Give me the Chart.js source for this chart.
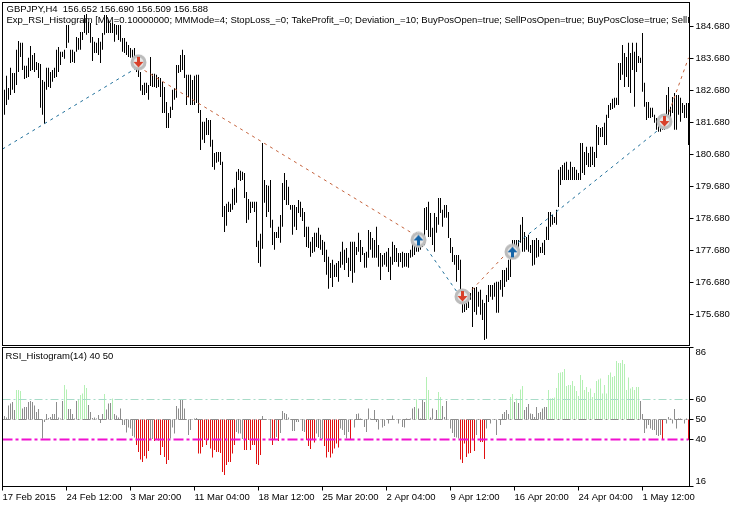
<!DOCTYPE html>
<html>
<head>
<meta charset="utf-8">
<style>
  html, body { margin: 0; padding: 0; background: #fff; }
  canvas { position: absolute; left: 0; }
  #priceChart { top: 0; }
  #rsiChart { top: 346px; }
</style>
<script src="https://cdn.jsdelivr.net/npm/chart.js@4"></script>
</head>
<body>
<canvas id="priceChart" width="741" height="346"></canvas>
<canvas id="rsiChart" width="741" height="160"></canvas>
<script>
// H4 bars
const highs = [
  182.40,182.71,183.15,182.77,183.40,183.24,183.24,183.96,184.24,184.18,
  184.18,183.46,183.46,183.71,184.08,183.80,183.86,183.58,183.55,183.52,
  183.02,182.96,183.40,183.40,183.27,183.33,183.40,183.96,184.05,183.90,
  183.90,183.96,184.74,184.74,183.96,183.96,183.90,184.36,184.33,184.52,
  184.52,185.05,185.08,184.83,184.80,184.36,184.21,184.18,184.33,184.21,
  184.49,185.05,185.05,184.89,184.80,184.80,184.77,184.74,184.74,184.74,
  184.33,184.33,184.21,184.11,184.02,183.96,184.02,183.71,183.49,183.27,
  182.86,182.93,182.93,182.86,183.74,183.21,183.21,183.18,183.11,183.08,
  182.96,182.80,182.33,181.99,182.18,182.71,182.77,183.49,183.49,183.80,
  183.96,183.80,183.18,183.18,183.18,183.02,183.15,183.18,183.18,182.08,
  181.71,181.71,181.83,181.77,181.77,181.15,180.74,180.77,180.77,180.77,
  180.46,179.08,179.15,179.21,179.15,179.61,179.65,180.15,180.24,180.18,
  180.15,180.11,179.52,179.30,179.21,179.21,179.21,179.21,177.99,178.21,
  181.05,179.89,179.74,179.71,179.89,178.65,178.27,178.27,178.43,178.80,
  179.80,180.11,179.89,179.68,179.11,179.11,179.11,179.05,179.27,179.21,
  179.02,178.89,178.43,178.43,177.96,178.11,178.24,178.24,178.40,178.18,
  178.02,177.96,177.71,177.49,177.30,177.40,177.24,177.30,177.36,177.65,
  177.96,177.71,177.77,177.46,177.96,177.96,177.96,177.80,178.24,178.02,
  177.80,177.61,177.65,178.33,178.27,178.08,178.02,178.43,177.86,177.61,
  177.55,177.61,177.65,177.77,177.49,177.96,177.86,177.77,177.61,177.61,
  177.65,177.61,177.61,177.61,177.71,177.93,177.86,178.24,178.11,177.96,
  178.11,179.02,179.05,179.21,178.86,178.40,178.86,178.74,179.33,179.33,
  178.96,179.11,179.11,178.89,178.08,177.80,177.55,177.55,177.55,177.40,
  176.46,176.36,176.30,176.36,176.36,176.55,176.52,176.55,176.40,176.46,
  176.15,176.05,176.30,176.61,176.61,176.61,176.68,176.71,176.71,176.77,
  177.08,177.08,177.15,177.40,177.86,178.02,178.02,178.02,178.02,178.49,
  178.74,178.27,178.11,178.18,177.86,178.02,178.02,178.08,178.02,177.80,
  177.93,178.02,178.43,178.89,178.89,178.80,178.74,178.96,180.21,180.30,
  180.36,180.43,180.46,180.21,180.46,180.30,180.30,180.21,180.11,181.05,
  181.05,180.77,180.93,180.74,180.93,180.93,180.77,181.61,181.55,181.52,
  181.55,181.68,181.93,182.24,182.30,182.43,182.46,182.46,183.55,183.55,
  184.11,183.86,183.74,184.18,183.86,184.18,183.90,184.18,183.77,183.71,
  184.49,182.93,182.33,182.33,182.15,182.15,181.93,181.83,181.83,181.83,
  181.93,181.71,182.55,182.80,182.18,182.49,182.61,182.55,182.55,182.46,
  182.30,182.24,182.30,182.30
];
const lows = [
  181.93,181.93,182.24,182.40,182.55,182.71,182.61,182.86,183.27,183.74,
  183.33,183.05,183.08,183.11,183.30,183.33,183.27,183.33,183.08,182.15,
  181.93,181.65,182.71,182.80,182.77,182.96,183.08,183.11,183.27,183.49,
  183.74,183.68,184.02,184.18,183.55,183.58,183.55,183.90,183.96,183.96,
  184.27,184.49,184.43,184.49,184.18,183.61,183.86,183.86,183.80,183.55,
  183.96,184.43,184.49,184.49,184.49,184.49,184.21,184.43,184.27,184.21,
  183.90,183.86,183.80,183.74,183.71,183.65,183.52,183.27,183.11,182.68,
  182.55,182.55,182.61,182.40,182.83,182.80,182.80,182.77,182.80,182.49,
  181.99,181.99,181.52,181.52,181.83,182.08,182.40,182.46,183.24,183.27,
  183.33,183.08,182.24,182.49,182.24,182.24,182.24,182.30,181.99,180.83,
  181.15,181.05,181.30,181.30,180.93,180.30,180.21,180.43,180.46,180.36,
  178.74,178.27,178.46,178.89,178.89,178.96,179.11,179.18,179.89,179.86,
  179.89,179.33,178.55,178.65,178.86,179.02,178.89,177.80,177.30,177.18,
  177.74,179.18,178.74,178.89,178.40,177.86,177.71,178.08,178.08,177.93,
  178.43,179.27,179.11,179.11,178.96,178.18,178.43,178.33,178.86,178.74,
  178.61,178.11,177.80,177.77,177.49,177.61,177.65,177.80,177.77,177.71,
  177.55,177.33,176.93,176.49,176.83,176.55,176.86,176.86,176.71,177.15,
  177.24,177.08,177.30,176.86,177.05,176.68,176.99,177.55,177.65,177.33,
  177.55,177.15,177.15,177.46,177.71,177.46,177.46,177.46,177.18,176.77,
  177.18,177.24,177.18,177.02,176.77,177.24,177.33,177.33,177.18,177.33,
  177.15,177.18,177.18,177.15,177.46,177.49,177.55,177.65,177.65,177.71,
  177.80,177.86,178.33,178.11,178.11,177.86,177.65,178.24,178.49,178.86,
  178.43,178.71,178.71,178.08,177.61,177.33,177.24,176.71,177.08,176.21,
  175.74,175.77,175.83,175.89,176.15,175.30,175.77,175.68,175.93,175.68,
  175.52,174.89,174.93,176.08,176.24,176.15,176.24,175.74,175.74,176.46,
  176.24,176.55,176.71,176.77,176.86,177.65,177.77,177.77,177.71,177.93,
  177.65,177.65,177.71,177.65,177.61,177.21,177.24,177.46,177.49,177.61,
  177.61,177.55,178.02,178.02,178.43,178.49,178.55,178.49,179.05,179.74,
  179.89,179.89,179.89,179.89,179.89,179.89,179.89,179.89,179.89,179.89,
  180.11,180.05,180.36,180.30,180.30,180.36,180.30,180.58,180.99,181.24,
  181.24,180.99,180.99,181.83,182.08,182.11,182.15,182.24,182.24,183.02,
  183.18,182.80,183.11,182.80,182.61,183.33,182.18,183.27,183.55,183.55,
  182.65,182.18,181.77,181.83,181.83,181.86,181.68,181.46,181.40,181.40,
  181.46,181.46,181.77,181.86,181.61,181.99,181.46,181.46,181.93,181.71,
  181.99,181.83,181.83,180.99
];
const rsi = [
  51,51.7,51,57,58,58.7,54.7,64.7,64.7,64.3,
  55.5,56.3,56.3,58.8,59.3,58.7,57,53.8,55.2,49.7,
  40.5,48.8,52.7,50.7,51.3,52.7,52.7,58.8,51,50.5,
  59.3,67.2,65,55.2,55.2,52.7,50.5,59.3,60.2,62.2,
  63,67.2,65.8,57.2,53.8,50.8,51,50.5,52.2,48.3,
  52.7,62.7,55,58,58.3,60.5,52.7,52,51,55.5,
  47.2,47.2,43.5,46,45.5,41.7,41,37.2,33.8,30,
  28.8,31.7,30.5,34.2,40.3,40.3,39.2,39.8,39.5,32.2,
  36.3,31.3,27.7,29.7,40.5,46,43,56.7,55.5,59.7,
  59.7,55.5,49.7,42.2,44.7,49.7,50.5,50.8,33,33,
  36.3,39.7,37.2,39.7,35.5,31,34.7,33.8,33.8,33.3,
  23.8,22.2,27.2,28.8,28.8,33,37.2,43.8,43,43,
  40.3,34.7,34.7,39.7,34.7,37.2,37.2,27.7,27.2,32.2,
  51.7,50,49.7,49.7,40.5,37.2,39.7,41.3,39.3,43.3,
  54.2,53.3,52.7,51,49.7,44.3,44.3,48.8,48.8,50.3,
  44.3,43.8,39.7,36.7,35.2,39.9,38.5,43,41.3,40.5,
  40.2,36.7,31,33.8,31,33,35.5,38,36,45.5,
  44.7,42.2,40.5,43.8,39.7,49.7,46,52.7,53,50.5,
  49.8,46.3,43.8,55.5,50.5,49.7,54.7,48.8,45,49.7,
  46,46.7,50.2,48,49.7,52,49.8,49.7,48,50.2,
  46.3,46,50.5,50.2,50.5,55.5,56.3,60.1,55.5,50.5,
  59.9,58.8,71.3,64.7,51,55.5,49.7,54.7,63.7,61.3,
  56.7,51.3,59.3,49.7,45.5,43.3,41.3,41,40.5,30,
  28.3,38,31.3,33,33.3,39.7,34.3,42.2,49.7,38.8,
  38.8,30.3,45.5,49.7,48,50.2,49.7,42.2,50.2,47.2,
  52.7,53.8,54.7,52.7,61.3,62.7,58.8,60.5,58.3,65,
  66.7,54.7,56.3,57.7,53,52.7,51.3,56.3,53.3,53.8,
  55.5,56.3,56.3,64.7,60.5,60.8,61,65.8,73.3,73.5,
  73.8,75.2,66.8,67.2,67.2,69.3,66.7,64.3,61.7,72.2,
  69.7,64.7,66.3,63.8,65.5,61.3,63.3,69.3,70,70.5,
  63,67.2,63,72.2,73.5,71.3,71.8,79.3,78.3,78.3,
  79.7,77.7,64.7,71,65.5,66.3,64.7,66.3,66.3,59.3,
  52.7,43.3,45.5,47.2,45.5,44.7,44.7,42.2,41.8,42.2,
  39.9,50,48,51.3,50.5,48,55.2,45.5,50.5,50.5,
  50,48,50.5,39.8
];

// trade history lines: bar index and price at each deal
const dealBars = [0, 68, 208, 230, 255, 331, 343];
const dealPrices = [180.86, 183.43, 178.11, 176.15, 177.80, 181.61, 183.71];

// ringed arrows
const sellBars = [68, 230, 331];
const sellPrices = [183.57, 176.25, 181.72];
const buyBars = [208, 255];
const buyPrices = [178.02, 177.65];

const priceTicks = [184.68, 183.68, 182.68, 181.68, 180.68, 179.68, 178.68, 177.68, 176.68, 175.68];
const rsiTicks = [86, 60, 50, 40, 16];
const rsiLevels = [60, 50, 40];
const timeTicks = ["17 Feb 2015", "24 Feb 12:00", "3 Mar 20:00", "11 Mar 04:00", "18 Mar 12:00", "25 Mar 20:00", "2 Apr 04:00", "9 Apr 12:00", "16 Apr 20:00", "24 Apr 04:00", "1 May 12:00"];
const barsPerTick = 32;

const headerLine1 = "GBPJPY,H4  156.652 156.690 156.509 156.588";
const headerLine2 = "Exp_RSI_Histogram [MM=0.10000000; MMMode=4; StopLoss_=0; TakeProfit_=0; Deviation_=10; BuyPosOpen=true; SellPosOpen=true; BuyPosClose=true; SellPosClose=true]";
const rsiHeader = "RSI_Histogram(14) 40 50";

const BLUE = "#1f6f9a";
const BROWN = "#c4623c";
const FONT = "9.5px 'Liberation Sans'";

const barIndex = highs.map((_, i) => i);

// ring plus arrow, used as the point image of the deal markers
function makeIcon(color, up) {
  const c = document.createElement("canvas");
  c.width = c.height = 17;
  const g = c.getContext("2d");
  g.beginPath();
  g.arc(8.5, 8.5, 6.5, 0, Math.PI * 2);
  g.fillStyle = "#e8e8e8";
  g.fill();
  g.lineWidth = 3;
  g.strokeStyle = "#bcbcbc";
  g.stroke();
  if (up) {
    g.translate(0, 17);
    g.scale(1, -1);
  }
  g.fillStyle = color;
  g.beginPath();
  g.moveTo(7, 3);
  g.lineTo(10, 3);
  g.lineTo(10, 8);
  g.lineTo(13.5, 8);
  g.lineTo(8.5, 13.5);
  g.lineTo(3.5, 8);
  g.lineTo(7, 8);
  g.closePath();
  g.fill();
  return c;
}

// black pane border and the text lines inside the pane
function paneDecor(lines) {
  return {
    id: "paneDecor",
    afterDraw(chart) {
      const { ctx, chartArea: a } = chart;
      ctx.save();
      ctx.strokeStyle = "#000";
      ctx.lineWidth = 1;
      ctx.strokeRect(a.left + 1, a.top, a.right - a.left - 1, a.bottom - a.top);
      ctx.beginPath();
      ctx.rect(a.left, a.top, a.right - a.left, a.bottom - a.top);
      ctx.clip();
      ctx.fillStyle = "#000";
      ctx.font = FONT;
      ctx.textBaseline = "middle";
      lines.forEach(l => ctx.fillText(l.text, l.x, l.y));
      ctx.restore();
    }
  };
}

// the rsi axis keeps its end labels inside the pane
const rsiLabels = {
  id: "rsiLabels",
  afterDraw(chart) {
    const { ctx, chartArea: a, scales } = chart;
    ctx.save();
    ctx.fillStyle = "#000";
    ctx.font = FONT;
    ctx.textBaseline = "middle";
    rsiTicks.forEach(v => {
      const y = Math.min(Math.max(scales.y.getPixelForValue(v), a.top + 5), a.bottom - 5.5);
      ctx.fillText(String(v), a.right + 6, y);
    });
    ctx.restore();
  }
};

function fixAxis(width, height) {
  return scale => {
    if (width) scale.width = width;
    if (height) scale.height = height;
    scale.paddingTop = scale.paddingBottom = scale.paddingLeft = scale.paddingRight = 0;
  };
}

function tradeSegment(from, color) {
  return {
    type: "line",
    order: 1,
    data: [
      { x: dealBars[from], y: dealPrices[from] },
      { x: dealBars[from + 1], y: dealPrices[from + 1] }
    ],
    borderColor: color,
    borderWidth: 1,
    borderDash: [3, 4],
    pointRadius: 0,
    fill: false
  };
}

function markers(bars, prices, icon) {
  return {
    type: "line",
    order: 0,
    showLine: false,
    data: bars.map((b, i) => ({ x: b, y: prices[i] })),
    pointStyle: icon,
    pointRadius: 8
  };
}

new Chart(document.getElementById("priceChart"), {
  type: "bar",
  data: {
    labels: barIndex,
    datasets: [
      markers(sellBars, sellPrices, makeIcon("#d8402a", false)),
      markers(buyBars, buyPrices, makeIcon("#1464a8", true)),
      tradeSegment(0, BLUE),
      tradeSegment(1, BROWN),
      tradeSegment(2, BLUE),
      tradeSegment(3, BROWN),
      tradeSegment(4, BLUE),
      tradeSegment(5, BROWN),
      {
        order: 2,
        data: highs.map((h, i) => [lows[i], h]),
        backgroundColor: "#000",
        barThickness: 1,
        inflateAmount: 0,
        borderWidth: 0
      }
    ]
  },
  options: {
    responsive: false,
    animation: false,
    devicePixelRatio: 1,
    layout: { autoPadding: false, padding: { left: 1.5, top: 2.5, right: 0, bottom: 0.5 } },
    plugins: { legend: { display: false }, tooltip: { enabled: false } },
    scales: {
      x: { display: false, offset: true },
      y: {
        position: "right",
        min: 174.72,
        max: 185.44,
        bounds: "data",
        afterFit: fixAxis(51.5),
        afterBuildTicks: s => { s.ticks = priceTicks.map(v => ({ value: v })); },
        border: { display: false },
        grid: { drawOnChartArea: false, tickLength: 4, color: "#000" },
        ticks: {
          autoSkip: false,
          padding: 2,
          color: "#000",
          font: { family: "'Liberation Sans'", size: 9.5 },
          callback: v => v.toFixed(3)
        }
      }
    }
  },
  plugins: [paneDecor([
    { text: headerLine1, x: 6.5, y: 9.5 },
    { text: headerLine2, x: 6.5, y: 20.5 }
  ])]
});

const levelColors = ["#a8dcc8", "#8c8c8c", "#f010d0"];
const levelWidths = [1.2, 1, 2];
const levelDash = [[8, 3, 2, 3], [8, 3, 2, 3], [10, 3, 3, 3]];

new Chart(document.getElementById("rsiChart"), {
  type: "bar",
  data: {
    labels: barIndex,
    datasets: [
      ...rsiLevels.map((lv, k) => ({
        type: "line",
        order: 0,
        data: [{ x: 0, y: lv }, { x: highs.length - 1, y: lv }],
        borderColor: levelColors[k],
        borderWidth: levelWidths[k],
        borderDash: levelDash[k],
        pointRadius: 0
      })),
      {
        order: 1,
        data: rsi.map(v => [50, v]),
        backgroundColor: rsi.map(v => v >= 60 ? "#b4f0b4" : v <= 40 ? "#e01010" : "#8c8c8c"),
        barThickness: 1,
        inflateAmount: 0,
        borderWidth: 0
      }
    ]
  },
  options: {
    responsive: false,
    animation: false,
    devicePixelRatio: 1,
    layout: { autoPadding: false, padding: { left: 1.5, top: 1.5, right: 0, bottom: 0 } },
    plugins: { legend: { display: false }, tooltip: { enabled: false } },
    scales: {
      x: {
        offset: true,
        afterFit: fixAxis(0, 19.5),
        afterBuildTicks: s => { s.ticks = timeTicks.map((_, k) => ({ value: k * barsPerTick })); },
        border: { display: false },
        grid: { offset: false, drawOnChartArea: false, tickLength: 4, color: "#000" },
        ticks: {
          autoSkip: false,
          maxRotation: 0,
          align: "start",
          padding: 1,
          color: "#000",
          font: { family: "'Liberation Sans'", size: 9.5 },
          callback: v => timeTicks[v / barsPerTick]
        }
      },
      y: {
        position: "right",
        min: 16.5,
        max: 86,
        bounds: "data",
        afterFit: fixAxis(51.5),
        afterBuildTicks: s => { s.ticks = rsiTicks.map(v => ({ value: Math.max(v, 16.5) })); },
        border: { display: false },
        grid: { drawOnChartArea: false, tickLength: 4, color: "#000" },
        ticks: { display: false, autoSkip: false }
      }
    }
  },
  plugins: [paneDecor([{ text: rsiHeader, x: 5.5, y: 10.5 }]), rsiLabels]
});
</script>
</body>
</html>
